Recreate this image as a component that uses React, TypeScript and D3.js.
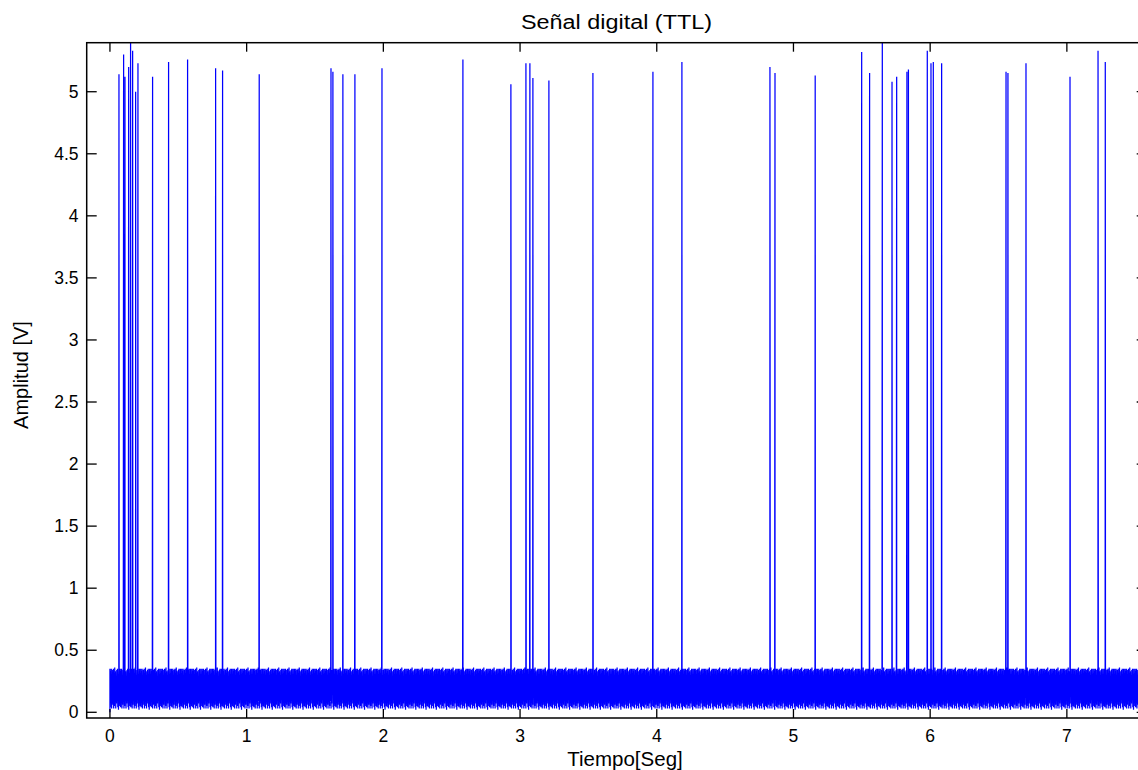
import { useEffect, useRef } from 'react';
import * as d3 from 'd3';

// spike instants (s) and their peak amplitude (V)
const spikeTimes = [
  0.066, 0.1, 0.11, 0.137, 0.151, 0.166, 0.188, 0.205, 0.312, 0.429, 0.568, 0.773, 0.824, 1.092,
  1.617, 1.631, 1.704, 1.792, 1.99, 2.582, 2.933, 3.043, 3.072, 3.094, 3.211, 3.533, 3.972, 4.184,
  4.828, 4.865, 5.159, 5.499, 5.557, 5.65, 5.721, 5.755, 5.83, 5.841, 5.979, 6.006, 6.023, 6.084,
  6.555, 6.569, 6.701, 7.023, 7.228, 7.281,
];
const spikeValues = [
  5.14, 5.3, 5.12, 5.2, 5.45, 5.33, 5.0, 5.23, 5.12, 5.24, 5.26, 5.19, 5.17, 5.14,
  5.19, 5.16, 5.14, 5.14, 5.19, 5.26, 5.06, 5.23, 5.23, 5.11, 5.09, 5.15, 5.16, 5.24,
  5.2, 5.15, 5.13, 5.32, 5.15, 5.45, 5.08, 5.12, 5.16, 5.18, 5.33, 5.23, 5.24, 5.23,
  5.16, 5.15, 5.23, 5.12, 5.33, 5.24,
];
// one cycle of the low-level noise band (V), repeated along the record
const bandCycle = [
  0.35, 0.04, 0.33, 0.08, 0.35, 0.03, 0.28, 0.06, 0.34, 0.12,
  0.35, 0.03, 0.31, 0.05, 0.36, 0.09, 0.33, 0.03, 0.22, 0.07,
  0.34, 0.15, 0.35, 0.04, 0.3, 0.02, 0.35, 0.1, 0.26, 0.05,
];
const sampleStep = 0.0025;
const recordEnd = 7.6;

const xTicks = [0, 1, 2, 3, 4, 5, 6, 7];
const yTicks = [0, 0.5, 1, 1.5, 2, 2.5, 3, 3.5, 4, 4.5, 5];

export default function App() {
  const svgRef = useRef<SVGSVGElement>(null);

  useEffect(() => {
    if (!svgRef.current) return;
    const svg = d3.select(svgRef.current);
    svg.selectAll('*').remove();

    const left = 86.7, right = 1146.7, top = 42.7, bottom = 718;
    const x = d3.scaleLinear().domain([-0.17, 7.584]).range([left, right]);
    const y = d3.scaleLinear().domain([-0.046, 5.395]).range([bottom, top]);
    const font = 'Liberation Sans, Arial, Helvetica, sans-serif';

    // build the sampled record
    const pts: [number, number][] = [[0, 0]];
    const n = Math.round(recordEnd / sampleStep);
    let s = 0;
    for (let i = 0; i <= n; i++) {
      const t = i * sampleStep;
      while (s < spikeTimes.length && spikeTimes[s] <= t) {
        pts.push([spikeTimes[s], spikeValues[s]]);
        s++;
      }
      pts.push([t, bandCycle[i % bandCycle.length]]);
    }

    svg.append('defs').append('clipPath').attr('id', 'plotclip')
      .append('rect')
      .attr('x', left).attr('y', top)
      .attr('width', right - left).attr('height', bottom - top);

    const line = d3.line<[number, number]>()
      .x(d => x(d[0]))
      .y(d => y(d[1]));

    svg.append('path')
      .datum(pts)
      .attr('clip-path', 'url(#plotclip)')
      .attr('fill', 'none')
      .attr('stroke', '#0000ff')
      .attr('stroke-width', 1.25)
      .attr('d', line);

    // box
    svg.append('rect')
      .attr('x', left).attr('y', top)
      .attr('width', right - left).attr('height', bottom - top)
      .attr('fill', 'none')
      .attr('stroke', '#000')
      .attr('stroke-width', 1.5);

    // ticks, MATLAB style: inward on all sides
    const tk = svg.append('g').attr('stroke', '#000').attr('stroke-width', 1.3);
    xTicks.forEach(v => {
      tk.append('line').attr('x1', x(v)).attr('x2', x(v)).attr('y1', bottom).attr('y2', bottom - 9);
      tk.append('line').attr('x1', x(v)).attr('x2', x(v)).attr('y1', top).attr('y2', top + 9);
    });
    yTicks.forEach(v => {
      tk.append('line').attr('x1', left).attr('x2', left + 10).attr('y1', y(v)).attr('y2', y(v));
      tk.append('line').attr('x1', right).attr('x2', right - 10).attr('y1', y(v)).attr('y2', y(v));
    });

    svg.append('g')
      .selectAll('text')
      .data(xTicks)
      .enter()
      .append('text')
      .attr('x', d => x(d))
      .attr('y', 742)
      .attr('text-anchor', 'middle')
      .attr('font-family', font)
      .attr('font-size', 17.5)
      .text(d => String(d));

    svg.append('g')
      .selectAll('text')
      .data(yTicks)
      .enter()
      .append('text')
      .attr('x', 78.5)
      .attr('y', d => y(d) + 6)
      .attr('text-anchor', 'end')
      .attr('font-family', font)
      .attr('font-size', 17.5)
      .text(d => String(d));

    svg.append('text')
      .attr('x', 616.5)
      .attr('y', 29)
      .attr('text-anchor', 'middle')
      .attr('font-family', font)
      .attr('font-size', 20)
      .attr('textLength', 191)
      .attr('lengthAdjust', 'spacingAndGlyphs')
      .text('Señal digital (TTL)');

    svg.append('text')
      .attr('x', 625)
      .attr('y', 766)
      .attr('text-anchor', 'middle')
      .attr('font-family', font)
      .attr('font-size', 20.5)
      .text('Tiempo[Seg]');

    svg.append('text')
      .attr('transform', `translate(28,${375}) rotate(-90)`)
      .attr('text-anchor', 'middle')
      .attr('font-family', font)
      .attr('font-size', 20)
      .text('Amplitud [V]');
  }, []);

  return (
    <svg
      ref={svgRef}
      width={1138}
      height={770}
      style={{ position: 'fixed', left: 0, top: 0, background: '#fff', overflow: 'hidden' }}
    />
  );
}
